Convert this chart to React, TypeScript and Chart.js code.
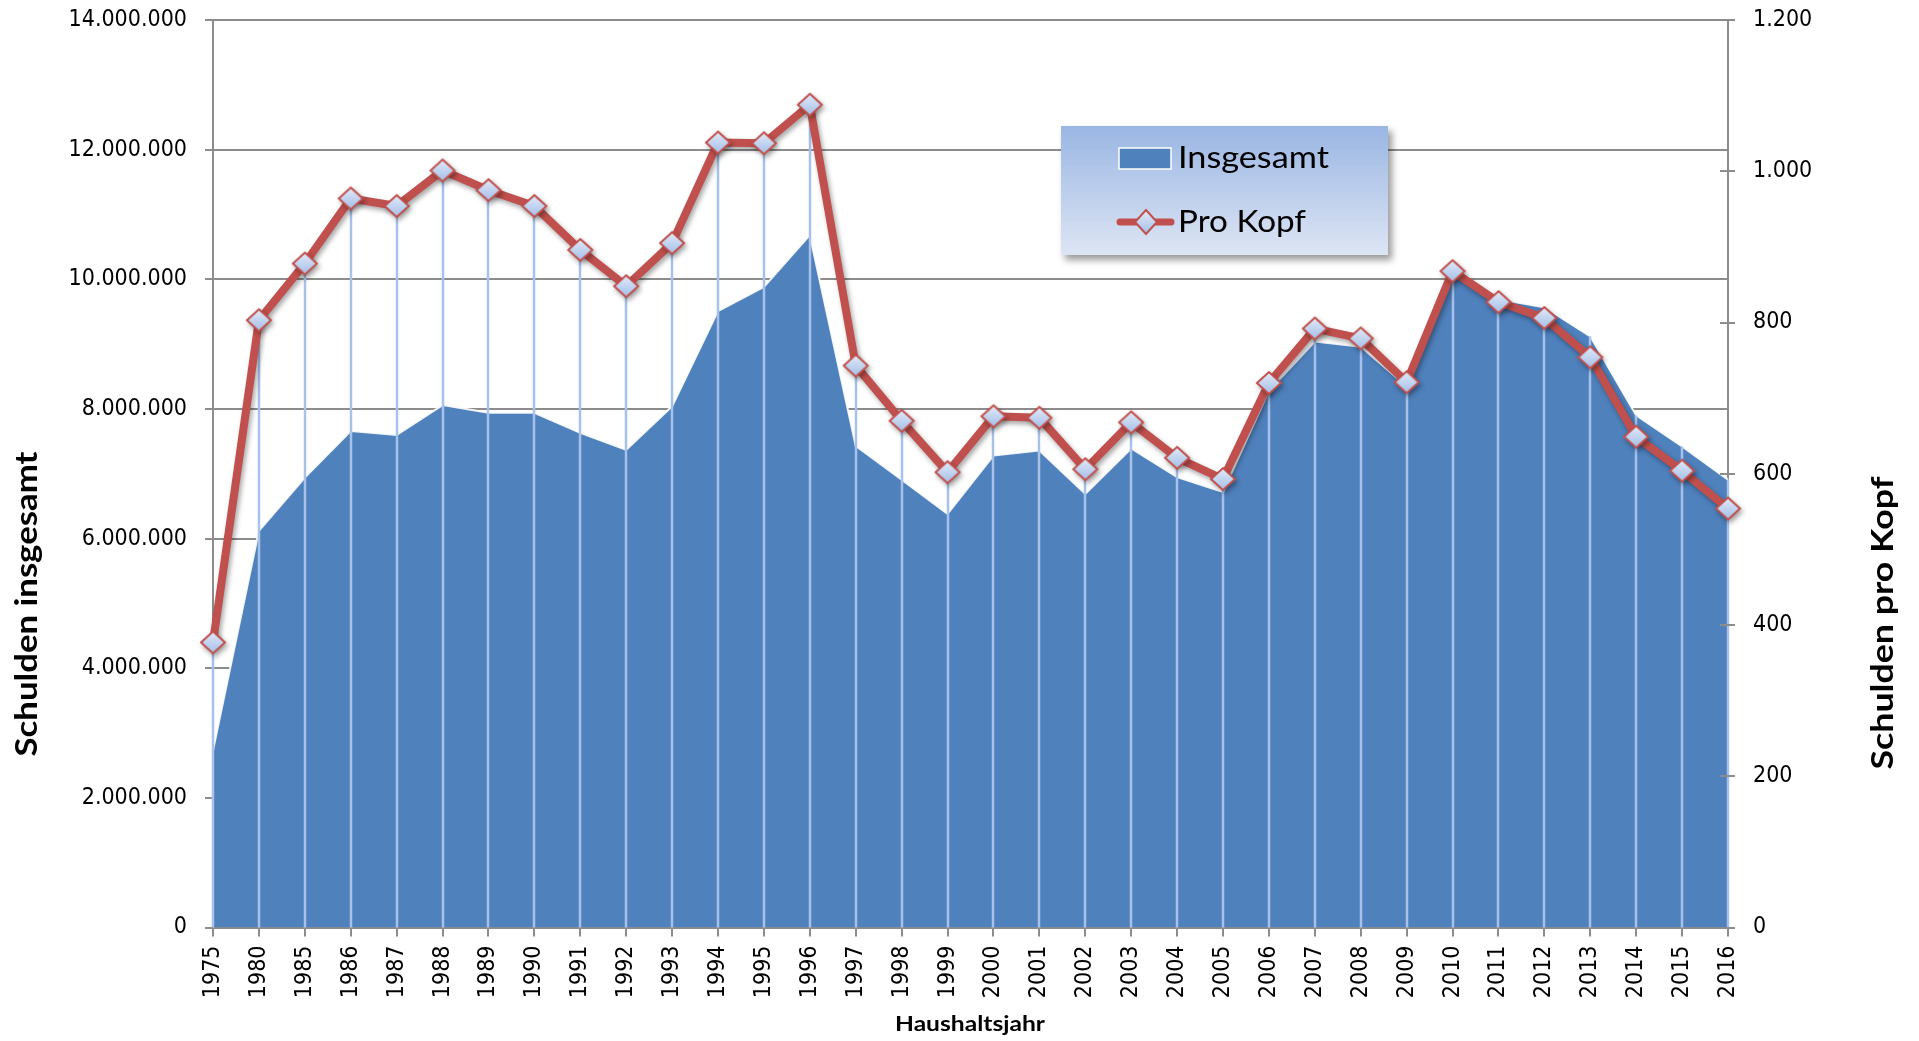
import React, { useEffect, useRef } from 'react';
import { Chart, registerables } from 'chart.js';

Chart.register(...registerables);

const years = [
  '1975', '1980', '1985', '1986', '1987', '1988', '1989', '1990', '1991', '1992', '1993',
  '1994', '1995', '1996', '1997', '1998', '1999', '2000', '2001', '2002', '2003', '2004',
  '2005', '2006', '2007', '2008', '2009', '2010', '2011', '2012', '2013', '2014', '2015', '2016',
];

const insgesamt = [
  2730000, 6120000, 6940000, 7660000, 7600000, 8060000, 7940000, 7940000, 7630000, 7370000, 8040000,
  9510000, 9880000, 10680000, 7430000, 6910000, 6380000, 7280000, 7360000, 6690000, 7390000, 6950000,
  6720000, 8280000, 9040000, 8960000, 8350000, 10070000, 9690000, 9570000, 9120000, 7900000, 7420000, 6910000,
];

const proKopf = [
  377, 803, 878, 964, 954, 1001, 975, 954, 896, 848, 905,
  1038, 1037, 1088, 743, 670, 602, 676, 674, 606, 668, 621,
  593, 720, 792, 779, 721, 868, 827, 806, 754, 649, 604, 554,
];

const leftMax = 14000000;
const leftStep = 2000000;
const rightMax = 1200;
const rightStep = 200;

const seriesNames = ['Insgesamt', 'Pro Kopf'];
const titleLeft = 'Schulden insgesamt';
const titleRight = 'Schulden pro Kopf';
const titleBottom = 'Haushaltsjahr';

const W = 1919;
const H = 1041;
const GRID = '#8c8c8c';
const BLUE = '#4F81BD';
const RED = '#C0504D';
const DROP = '#A6C1EA';

function pickTickFont() {
  try {
    const c = document.createElement('canvas').getContext('2d')!;
    c.font = '23px "DejaVu Sans Condensed", monospace';
    const a = c.measureText('14.000.000').width;
    c.font = '23px monospace';
    const b = c.measureText('14.000.000').width;
    if (Math.abs(a - b) > 0.5 && a < 125) return { family: 'DejaVu Sans Condensed', size: 23 };
  } catch (e) {
    /* ignore */
  }
  return { family: 'DejaVu Sans', size: 20.6 };
}

const fmt = (v: number | string) =>
  String(Math.round(Number(v))).replace(/\B(?=(\d{3})+(?!\d))/g, '.');

function diamondPath(ctx: CanvasRenderingContext2D, cx: number, cy: number, rx: number, ry: number) {
  ctx.beginPath();
  ctx.moveTo(cx, cy - ry);
  ctx.lineTo(cx + rx, cy);
  ctx.lineTo(cx, cy + ry);
  ctx.lineTo(cx - rx, cy);
  ctx.closePath();
}

function paintDiamond(ctx: CanvasRenderingContext2D, cx: number, cy: number, rx: number, ry: number) {
  const g = ctx.createLinearGradient(0, cy - ry, 0, cy + ry);
  g.addColorStop(0, '#E3EBF8');
  g.addColorStop(1, '#A3BEE8');
  diamondPath(ctx, cx, cy, rx, ry);
  ctx.fillStyle = g;
  ctx.fill();
  ctx.lineWidth = 2;
  ctx.strokeStyle = RED;
  ctx.lineJoin = 'miter';
  ctx.stroke();
}

function makeMarker() {
  const c = document.createElement('canvas');
  c.width = 28;
  c.height = 26;
  const ctx = c.getContext('2d')!;
  paintDiamond(ctx, 14, 13, 12, 11);
  return c;
}

function drawScaledText(
  ctx: CanvasRenderingContext2D,
  text: string,
  x: number,
  y: number,
  targetWidth: number,
  font: string,
  rotate: boolean,
  align: CanvasTextAlign,
) {
  ctx.save();
  ctx.font = font;
  ctx.fillStyle = '#000';
  ctx.textBaseline = 'alphabetic';
  ctx.textAlign = align;
  const w = ctx.measureText(text).width;
  ctx.translate(x, y);
  if (rotate) ctx.rotate(-Math.PI / 2);
  ctx.scale(targetWidth / w, 1);
  ctx.fillText(text, 0, 0);
  ctx.restore();
}

const decorPlugin = {
  id: 'decor',
  beforeDatasetDraw(chart: any, args: any) {
    if (args.index === 0) {
      const ctx = chart.ctx;
      ctx.save();
      ctx.shadowColor = 'rgba(0,0,0,0.35)';
      ctx.shadowBlur = 5;
      ctx.shadowOffsetX = 2;
      ctx.shadowOffsetY = 3;
    }
  },
  afterDatasetDraw(chart: any, args: any) {
    const ctx = chart.ctx;
    if (args.index === 0) {
      ctx.restore();
      return;
    }
    if (args.index === 1) {
      const x = chart.scales.x;
      const y = chart.scales.y;
      const y1 = chart.scales.y1;
      const bottom = chart.chartArea.bottom;
      ctx.save();
      ctx.strokeStyle = DROP;
      ctx.lineWidth = 2.5;
      years.forEach((_, i) => {
        const px = Math.round(x.getPixelForValue(i));
        const top = Math.min(y.getPixelForValue(insgesamt[i]), y1.getPixelForValue(proKopf[i]));
        ctx.beginPath();
        ctx.moveTo(px, top);
        ctx.lineTo(px, bottom);
        ctx.stroke();
      });
      ctx.restore();
    }
  },
  afterDraw(chart: any) {
    const ctx = chart.ctx;
    const area = chart.chartArea;
    const y1 = chart.scales.y1;
    // inward tick marks on right axis
    ctx.save();
    ctx.strokeStyle = GRID;
    ctx.lineWidth = 2;
    for (let v = 0; v <= rightMax; v += rightStep) {
      const py = Math.round(y1.getPixelForValue(v));
      ctx.beginPath();
      ctx.moveTo(area.right - 8, py);
      ctx.lineTo(area.right + 7, py);
      ctx.stroke();
    }
    ctx.restore();

    // axis titles
    drawScaledText(ctx, titleLeft, 37, 604, 305, 'bold 30px Lato', true, 'center');
    drawScaledText(ctx, titleRight, 1893, 623, 293, 'bold 30px Lato', true, 'center');
    drawScaledText(ctx, titleBottom, 970, 1031, 150, 'bold 21px Lato', false, 'center');

    // legend
    const lx = 1061, ly = 126, lw = 327, lh = 129;
    ctx.save();
    ctx.shadowColor = 'rgba(0,0,0,0.4)';
    ctx.shadowBlur = 7;
    ctx.shadowOffsetX = 4;
    ctx.shadowOffsetY = 5;
    const lg = ctx.createLinearGradient(0, ly, 0, ly + lh);
    lg.addColorStop(0, '#9AB6E3');
    lg.addColorStop(1, '#DDE5F4');
    ctx.fillStyle = lg;
    ctx.fillRect(lx, ly, lw, lh);
    ctx.restore();

    ctx.save();
    ctx.fillStyle = BLUE;
    ctx.fillRect(1119, 148, 52, 21);
    ctx.strokeStyle = '#FFFFFF';
    ctx.lineWidth = 1.5;
    ctx.strokeRect(1119, 148, 52, 21);
    ctx.restore();
    drawScaledText(ctx, seriesNames[0], 1178, 168, 151, '31px Lato', false, 'left');

    ctx.save();
    ctx.strokeStyle = RED;
    ctx.lineWidth = 7;
    ctx.lineCap = 'round';
    ctx.beginPath();
    ctx.moveTo(1120, 222);
    ctx.lineTo(1171, 222);
    ctx.stroke();
    paintDiamond(ctx, 1146, 222, 11, 12);
    ctx.restore();
    drawScaledText(ctx, seriesNames[1], 1178, 232, 128, '31px Lato', false, 'left');
  },
};

export default function App() {
  const ref = useRef<HTMLCanvasElement | null>(null);

  useEffect(() => {
    if (!ref.current) return;
    const marker = makeMarker();
    const TICK_FONT = pickTickFont();
    const chart = new Chart(ref.current, {
      type: 'line',
      data: {
        labels: years,
        datasets: [
          {
            label: seriesNames[1],
            data: proKopf,
            yAxisID: 'y1',
            order: 0,
            borderColor: RED,
            borderWidth: 8,
            borderJoinStyle: 'round',
            borderCapStyle: 'round',
            tension: 0,
            fill: false,
            pointStyle: marker as any,
            pointRadius: 12,
            pointHoverRadius: 12,
          },
          {
            label: seriesNames[0],
            data: insgesamt,
            yAxisID: 'y',
            order: 1,
            borderColor: 'rgba(255,255,255,0.9)',
            borderWidth: 2,
            backgroundColor: BLUE,
            fill: 'origin',
            tension: 0,
            pointRadius: 0,
            pointHoverRadius: 0,
          },
        ],
      },
      options: {
        responsive: false,
        animation: false,
        events: [],
        layout: { padding: { top: 17.5, left: 0, right: 0, bottom: 0 } },
        plugins: {
          legend: { display: false },
          tooltip: { enabled: false },
        },
        scales: {
          x: {
            type: 'category',
            offset: false,
            grid: { drawOnChartArea: false, drawTicks: true, tickLength: 9, color: GRID, lineWidth: 2 },
            border: { display: true, color: GRID, width: 2 },
            ticks: {
              autoSkip: false,
              maxRotation: 90,
              minRotation: 90,
              padding: 9,
              color: '#000',
              font: TICK_FONT,
            },
            afterFit: (s: any) => {
              s.height = 113.5;
              s.paddingLeft = 0;
              s.paddingRight = 0;
              s.paddingTop = 0;
              s.paddingBottom = 0;
            },
          },
          y: {
            position: 'left',
            min: 0,
            max: leftMax,
            grid: { color: GRID, lineWidth: 2, tickLength: 8 },
            border: { display: true, color: GRID, width: 2 },
            ticks: {
              stepSize: leftStep,
              padding: 18,
              color: '#000',
              font: TICK_FONT,
              callback: (v: any) => fmt(v),
            },
            afterFit: (s: any) => {
              s.width = 213;
              s.paddingTop = 0;
              s.paddingBottom = 0;
              s.paddingLeft = 0;
              s.paddingRight = 0;
            },
          },
          y1: {
            position: 'right',
            min: 0,
            max: rightMax,
            grid: { drawOnChartArea: false, drawTicks: false },
            border: { display: true, color: GRID, width: 2 },
            ticks: {
              stepSize: rightStep,
              padding: 25,
              color: '#000',
              font: TICK_FONT,
              callback: (v: any) => fmt(v),
            },
            afterFit: (s: any) => {
              s.width = 191;
              s.paddingTop = 0;
              s.paddingBottom = 0;
              s.paddingLeft = 0;
              s.paddingRight = 0;
            },
          },
        },
      },
      plugins: [decorPlugin],
    });
    return () => chart.destroy();
  }, []);

  return (
    <div style={{ position: 'fixed', left: 0, top: 0, width: W, height: H, background: '#fff' }}>
      <canvas ref={ref} width={W} height={H} style={{ display: 'block', width: W, height: H }} />
    </div>
  );
}
